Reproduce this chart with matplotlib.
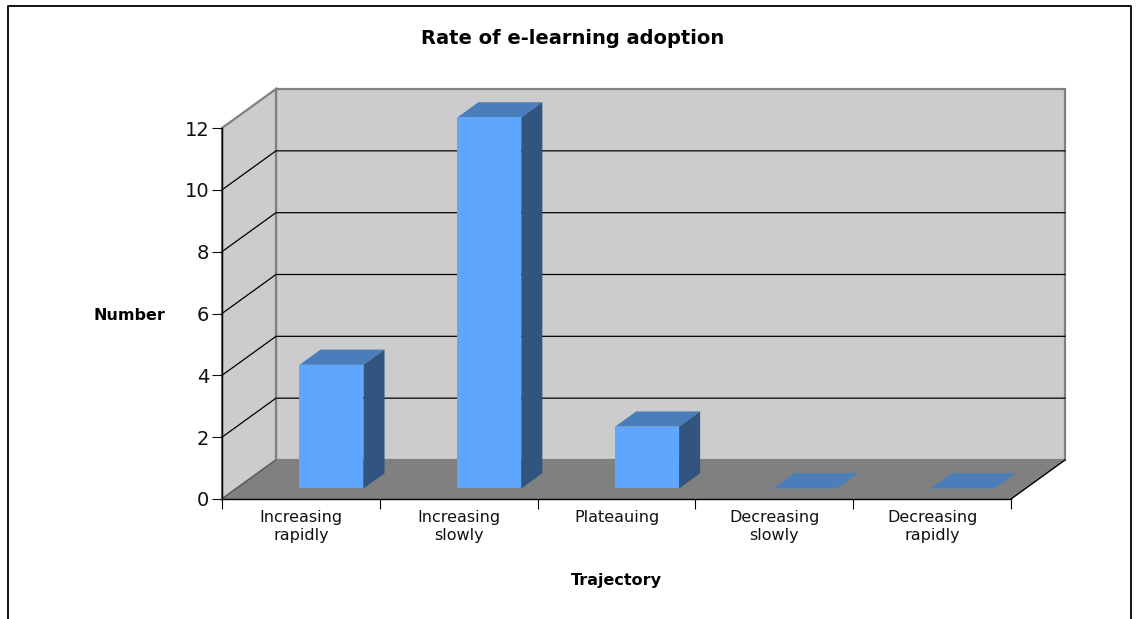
import matplotlib
matplotlib.use('Agg')
import matplotlib.pyplot as plt
from matplotlib.lines import Line2D
from matplotlib.patches import Polygon

categories = ['Increasing\nrapidly', 'Increasing\nslowly', 'Plateauing',
              'Decreasing\nslowly', 'Decreasing\nrapidly']
values = [4, 12, 2, 0, 0]
yticks = [0, 2, 4, 6, 8, 10, 12]

W, H = 1138, 619
plt.rcParams['font.family'] = ['DejaVu Sans']

fig = plt.figure(figsize=(W / 100, H / 100), dpi=100, facecolor='white')
# front plane of the box
ax = fig.add_axes([222 / W, 1 - 499 / H, 789 / W, 371 / H])
ax.set_xlim(0, len(categories))
ax.set_ylim(0, 12)
ax.patch.set_visible(False)

# depth of the box in data units
dx = 54 / (789 / 5)
dy = 39 / (371 / 12)


def pt(x, y, d=1.0):
    return (x + dx * d, y + dy * d)


def face(points, **kw):
    ax.add_patch(Polygon(points, closed=True, clip_on=False, **kw))


n = len(categories)
top = yticks[-1]
wall_edge = '#808080'

# walls and floor
face([pt(0, 0), pt(n, 0), pt(n, top), pt(0, top)], facecolor='#CCCCCC',
     edgecolor=wall_edge, linewidth=1.6, zorder=1)
face([pt(0, 0, 0), pt(0, 0), pt(0, top), pt(0, top, 0)], facecolor='#CCCCCC',
     edgecolor=wall_edge, linewidth=1.6, zorder=1)
face([pt(0, 0, 0), pt(n, 0, 0), pt(n, 0), pt(0, 0)], facecolor='#808080',
     edgecolor='none', zorder=1.5)

# gridlines on side and back wall
for v in yticks[1:-1]:
    xs, ys = zip(pt(0, v, 0), pt(0, v), pt(n, v))
    ax.plot(xs, ys, color='black', linewidth=0.9, zorder=2, clip_on=False)
xs, ys = zip(pt(n, 0, 0), pt(n, 0))
ax.plot(xs, ys, color='black', linewidth=1.0, zorder=2, clip_on=False)
xs, ys = zip(pt(0, 0, 0), pt(0, 0))
ax.plot(xs, ys, color='#555555', linewidth=0.8, zorder=2, clip_on=False)

# bars
bar_w = 64 / (789 / 5)
d0, d1 = 0.27, 0.66
for i, v in enumerate(values):
    x0 = i + 0.5 + 16 / (789 / 5) - dx * d0 - bar_w / 2 + dx * 0.27 - 0.0
    x1 = x0 + bar_w
    face([pt(x0, v, d0), pt(x1, v, d0), pt(x1, v, d1), pt(x0, v, d1)],
         facecolor='#4A7EBB', edgecolor='none', zorder=3)
    if v > 0:
        face([pt(x1, 0, d0), pt(x1, 0, d1), pt(x1, v, d1), pt(x1, v, d0)],
             facecolor='#31557F', edgecolor='none', zorder=3)
        face([pt(x0, 0, d0), pt(x1, 0, d0), pt(x1, v, d0), pt(x0, v, d0)],
             facecolor='#5FA6FF', edgecolor='none', zorder=4)

# axes
for s in ['top', 'right']:
    ax.spines[s].set_visible(False)
for s in ['left', 'bottom']:
    ax.spines[s].set_color('black')
    ax.spines[s].set_linewidth(1.0)
    ax.spines[s].set_zorder(5)
ax.set_yticks(yticks)
ax.tick_params(axis='y', labelsize=14, length=7, width=0.8, pad=2, colors='#111111')
ax.set_xticks(range(n + 1))
ax.set_xticklabels([])
ax.tick_params(axis='x', which='major', length=7, width=0.8)
ax.set_xticks([i + 0.5 for i in range(n)], minor=True)
ax.set_xticklabels(categories, minor=True, fontsize=11.5, linespacing=1.25, color='#111111')
ax.tick_params(axis='x', which='minor', length=0, pad=8)

ax.set_xlabel('Trajectory', fontsize=11.5, fontweight='bold')
ax.xaxis.set_label_coords((616 - 222) / 789, (499 - 581) / 371)
ax.xaxis.label.set_va('center')
ax.set_ylabel('Number', fontsize=11.5, fontweight='bold', rotation=0, ha='center', va='center')
ax.yaxis.set_label_coords((129 - 222) / 789, (499 - 315) / 371)
fig.text(573 / W, 1 - 39 / H, 'Rate of e-learning adoption', fontsize=14,
         fontweight='bold', ha='center', va='center')

# outer frame, open at the bottom
fig.add_artist(Line2D([8 / W, 8 / W, 1131 / W, 1131 / W],
                      [0, 1 - 5.5 / H, 1 - 5.5 / H, 0],
                      color='black', linewidth=1.3, transform=fig.transFigure))

plt.savefig('out.png', dpi=100)
